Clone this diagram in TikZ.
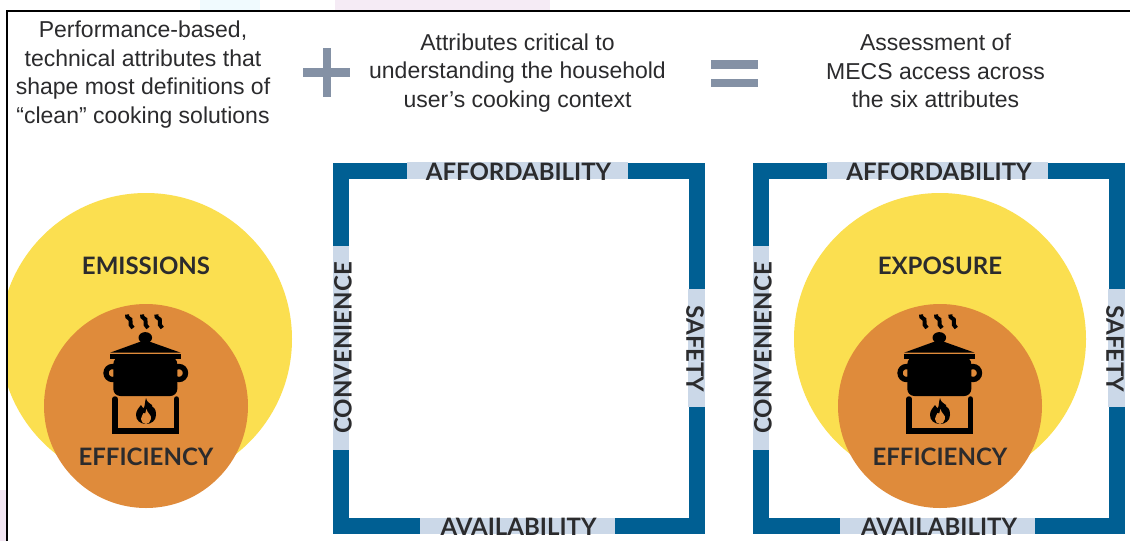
\documentclass[tikz,border=0pt]{standalone}
\usepackage{fontspec}
\setmainfont{Liberation Sans}
\newfontfamily\labelfont{Lato}[BoldFont={Lato Bold}]
\definecolor{bluebar}{HTML}{005F93}
\definecolor{patch}{HTML}{CBD8E8}
\definecolor{yel}{HTML}{FBDF50}
\definecolor{org}{HTML}{DF8B3B}
\definecolor{ink}{HTML}{2B2B2D}
\definecolor{opgrey}{HTML}{8491A5}
\tikzset{
  headtext/.style={align=center,text=ink,font=\fontsize{23}{28.5}\selectfont,inner sep=0pt},
  attr/.style={text=ink,font=\labelfont\bfseries\fontsize{24}{26}\selectfont,inner sep=0pt},
  pics/cookpot/.style={code={
    \foreach \sx in {-16,-1,13.3}{
      \draw[black,line width=4pt,shift={(\sx,0)}] (-3,-91.5) .. controls (-4,-87) and (2,-88) .. (0.5,-85) .. controls (-1,-82) and (1.5,-80) .. (3,-78);
    }
    \fill[black] (-0.7,-68.3) circle[x radius=6.8,y radius=5.6];
    \fill[black] (-36,-53.3) -- (-1,-66) -- (34.7,-53.3) -- cycle;
    \fill[black] (-36,-51.7) rectangle (34.7,-46.7);
    \draw[black,line width=5.3pt] (-33.5,-33) circle[radius=6.5];
    \draw[black,line width=5.3pt] (33,-33) circle[radius=6.5];
    \fill[black,rounded corners=7pt] (-32.7,-49) -- (-32.7,-10) -- (31.3,-10) -- (31.3,-49) -- cycle;
    \draw[black,line width=5.5pt,line cap=round,line join=miter] (-31,-7) -- (-31,25) -- (30.5,25) -- (30.5,-7);
    \fill[black] (0,-8) .. controls (1,-3) and (4,-3) .. (6,-1) .. controls (7,1) and (6,2) .. (7,1)
      .. controls (10,3) and (10,7) .. (10,9) .. controls (10,15) and (5,18) .. (0,18)
      .. controls (-6,18) and (-10,14) .. (-10,9) .. controls (-10,4) and (-7,2) .. (-5,-1)
      .. controls (-4,1) and (-3,2) .. (-2,2) .. controls (-1,-1) and (-1,-5) .. (0,-8) -- cycle;
    \fill[org] (0.5,3) .. controls (1,7) and (6,9) .. (5,13) .. controls (4.5,16) and (2,18) .. (0,18)
      .. controls (-3,18) and (-5,15.5) .. (-5,13) .. controls (-5,10) and (-3,9) .. (-2.5,7)
      .. controls (-1.5,8) and (-1,8) .. (-0.8,7.5) .. controls (-0.5,6) and (0,4.5) .. (0.5,3) -- cycle;
  }}
}
\begin{document}
\begin{tikzpicture}[x=1pt,y=-1pt]
\useasboundingbox (0,0) rectangle (1130,541);
\fill[white] (0,0) rectangle (1130,541);
% faint background bleeding past the frame
\fill[cyan!6] (200,0) rectangle (260,10);
\fill[violet!8] (335,0) rectangle (550,10);
\fill[violet!10] (0,490) rectangle (6,541);
% left circles
\begin{scope}
  \clip (7,11) rectangle (1130,541);
  \fill[yel] (146,339) circle[radius=146];
\end{scope}
\fill[org] (146,406) circle[radius=102];
\pic at (146,406) {cookpot};
% right circles
\fill[yel] (940,339) circle[radius=146];
\fill[org] (940,406) circle[radius=102];
\pic at (940,406) {cookpot};
% frame
\draw[black,line width=2pt] (7,541) -- (7,11) -- (1130,11);
% headings
\node[headtext] (h1) at (143,74.5) {Performance-based,\\technical attributes that\\shape most definitions of\\“clean” cooking solutions};
\node[headtext] (h2) at (517.5,73) {Attributes critical to\\understanding the household\\user’s cooking context};
\node[headtext] (h3) at (935.5,71) {Assessment of\\MECS access across\\the six attributes};
% operators
\fill[opgrey] (303,68) rectangle (350,77);
\fill[opgrey] (323,48) rectangle (331,97);
\fill[opgrey] (711,60) rectangle (758,69);
\fill[opgrey] (711,79) rectangle (758,87);
% squares
\foreach \ox in {333,753}{
  \begin{scope}[shift={(\ox,162)}]
    \draw[bluebar,line width=16pt] (8,8.5) rectangle (364,364);
    \fill[patch] (74,0) rectangle (295,17);
    \fill[patch] (87,356) rectangle (282,372);
    \fill[patch] (0,84) rectangle (16,288);
    \fill[patch] (355,127) rectangle (372,245);
  \end{scope}
}
% labels
\node[attr] (e1) at (146,265.5) {EMISSIONS};
\node[attr] (f1) at (146,456.5) {EFFICIENCY};
\node[attr] (e2) at (940,265.5) {EXPOSURE};
\node[attr] (f2) at (940,456.5) {EFFICIENCY};
\foreach \nm/\cx in {a/518.5,b/939}{
  \node[attr] (af\nm) at (\cx,171.8) {AFFORDABILITY};
  \node[attr] (av\nm) at (\cx,526.5) {AVAILABILITY};
}
\node[attr,rotate=90] (c1) at (343,348) {CONVENIENCE};
\node[attr,rotate=90] (c2) at (763,348) {CONVENIENCE};
\node[attr,rotate=-90] (s1) at (695,349) {SAFETY};
\node[attr,rotate=-90] (s2) at (1115,349) {SAFETY};
\end{tikzpicture}
\end{document}
